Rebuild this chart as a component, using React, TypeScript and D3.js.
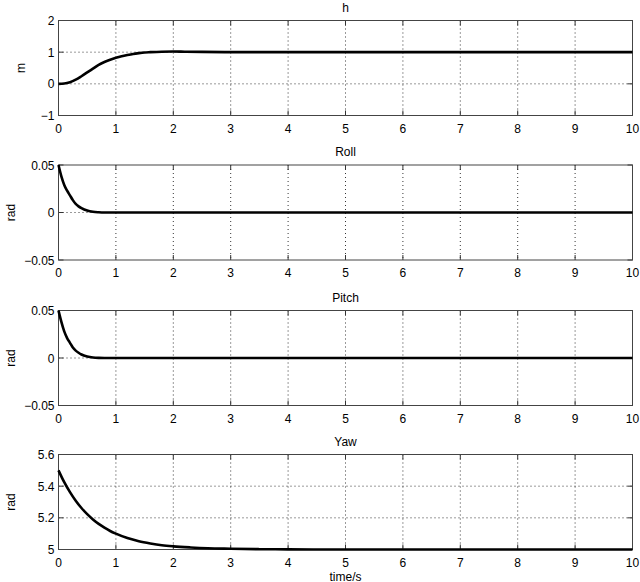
import React from 'react';
import * as d3 from 'd3';

// time axis (s)
const timeTicks = [0, 1, 2, 3, 4, 5, 6, 7, 8, 9, 10];

const hTime = [0, 0.1, 0.2, 0.3, 0.4, 0.5, 0.6, 0.7, 0.8, 0.9, 1.0, 1.1, 1.2, 1.3, 1.4, 1.5, 1.6, 1.8, 2.0, 2.2, 2.5, 3, 4, 5, 6, 7, 8, 9, 10];
const hValues = [0, 0.01, 0.05, 0.13, 0.24, 0.36, 0.48, 0.6, 0.69, 0.76, 0.82, 0.87, 0.91, 0.945, 0.97, 0.99, 1.0, 1.015, 1.02, 1.015, 1.008, 1.0, 1.0, 1.0, 1.0, 1.0, 1.0, 1.0, 1.0];

const rollTime = [0, 0.05, 0.1, 0.15, 0.2, 0.25, 0.3, 0.35, 0.4, 0.5, 0.6, 0.7, 0.8, 1, 2, 4, 6, 8, 10];
const rollValues = [0.05, 0.038, 0.029, 0.023, 0.018, 0.013, 0.009, 0.0065, 0.0046, 0.002, 0.0007, 0.0002, 0, 0, 0, 0, 0, 0, 0];

const pitchTime = [0, 0.05, 0.1, 0.15, 0.2, 0.25, 0.3, 0.35, 0.4, 0.5, 0.6, 0.7, 0.8, 1, 2, 4, 6, 8, 10];
const pitchValues = [0.05, 0.038, 0.028, 0.021, 0.016, 0.011, 0.0078, 0.0055, 0.0037, 0.0016, 0.0005, 0.0001, 0, 0, 0, 0, 0, 0, 0];

const yawTime = [0, 0.1, 0.2, 0.3, 0.4, 0.5, 0.6, 0.7, 0.8, 0.9, 1.0, 1.2, 1.4, 1.6, 1.8, 2.0, 2.3, 2.6, 3.0, 3.5, 4, 5, 6, 7, 8, 9, 10];
const yawValues = [5.5, 5.425, 5.362, 5.308, 5.262, 5.223, 5.19, 5.162, 5.138, 5.117, 5.1, 5.072, 5.052, 5.038, 5.027, 5.02, 5.013, 5.008, 5.005, 5.002, 5.001, 5.0, 5.0, 5.0, 5.0, 5.0, 5.0];

const hTicks = [-1, 0, 1, 2];
const angleTicks = [-0.05, 0, 0.05];
const yawTicks = [5, 5.2, 5.4, 5.6];

type Panel = {
  title: string;
  unit: string;
  t: number[];
  v: number[];
  ticks: number[];
  top: number;
};

const fmt = (d: number) => String(d).replace('-', '\u2212');

const panels: Panel[] = [
  { title: 'h', unit: 'm', t: hTime, v: hValues, ticks: hTicks, top: 20.5 },
  { title: 'Roll', unit: 'rad', t: rollTime, v: rollValues, ticks: angleTicks, top: 165 },
  { title: 'Pitch', unit: 'rad', t: pitchTime, v: pitchValues, ticks: angleTicks, top: 310.5 },
  { title: 'Yaw', unit: 'rad', t: yawTime, v: yawValues, ticks: yawTicks, top: 454.5 },
];

const width = 640;
const height = 582;
const left = 58.5;
const right = 632.5;
const panelH = 95;
const font = 'Liberation Sans, Arial, Helvetica, sans-serif';

function SubPlot({ p, last }: { p: Panel; last: boolean }) {
  const x = d3.scaleLinear().domain([0, 10]).range([left, right]);
  const y = d3.scaleLinear().domain([p.ticks[0], p.ticks[p.ticks.length - 1]]).range([p.top + panelH, p.top]);
  const line = d3.line<number>().x((_, i) => x(p.t[i])).y(d => y(d)).curve(d3.curveMonotoneX);
  const bottom = p.top + panelH;
  return (
    <g>
      {/* grid */}
      {timeTicks.slice(1, -1).map(t => (
        <line key={'gx' + t} x1={x(t)} x2={x(t)} y1={p.top} y2={bottom} stroke="#000" strokeWidth={0.8} strokeDasharray="1,3" />
      ))}
      {p.ticks.slice(1, -1).map(v => (
        <line key={'gy' + v} x1={left} x2={right} y1={y(v)} y2={y(v)} stroke="#000" strokeWidth={0.8} strokeDasharray="1,3" />
      ))}
      {/* tick marks */}
      {timeTicks.map(t => (
        <g key={'tx' + t}>
          <line x1={x(t)} x2={x(t)} y1={bottom} y2={bottom - 5} stroke="#333" />
          <line x1={x(t)} x2={x(t)} y1={p.top} y2={p.top + 5} stroke="#333" />
          <text x={x(t)} y={bottom + 17} textAnchor="middle" fontSize={12} fontFamily={font}>{t}</text>
        </g>
      ))}
      {p.ticks.map(v => (
        <g key={'ty' + v}>
          <line x1={left} x2={left + 5} y1={y(v)} y2={y(v)} stroke="#333" />
          <line x1={right} x2={right - 5} y1={y(v)} y2={y(v)} stroke="#333" />
          <text x={left - 4} y={y(v) + 4.5} textAnchor="end" fontSize={12} fontFamily={font}>{fmt(v)}</text>
        </g>
      ))}
      <rect x={left} y={p.top} width={right - left} height={panelH} fill="none" stroke="#444" strokeWidth={1} />
      <path d={line(p.v) || ''} fill="none" stroke="#000" strokeWidth={2.6} />
      <text x={(left + right) / 2} y={p.top - 9} textAnchor="middle" fontSize={12} fontFamily={font}>{p.title}</text>
      <text transform={`translate(${p.unit === 'm' ? 25 : 15},${p.top + panelH / 2}) rotate(-90)`} textAnchor="middle" fontSize={12} fontFamily={font}>{p.unit}</text>
      {last && (
        <text x={(left + right) / 2} y={bottom + 31} textAnchor="middle" fontSize={12} fontFamily={font}>time/s</text>
      )}
    </g>
  );
}

export default function App() {
  return (
    <svg width={width} height={height} style={{ position: 'absolute', left: 0, top: 0, background: '#fff' }}>
      <rect width={width} height={height} fill="#fff" />
      {panels.map((p, i) => (
        <SubPlot key={p.title} p={p} last={i === panels.length - 1} />
      ))}
    </svg>
  );
}
